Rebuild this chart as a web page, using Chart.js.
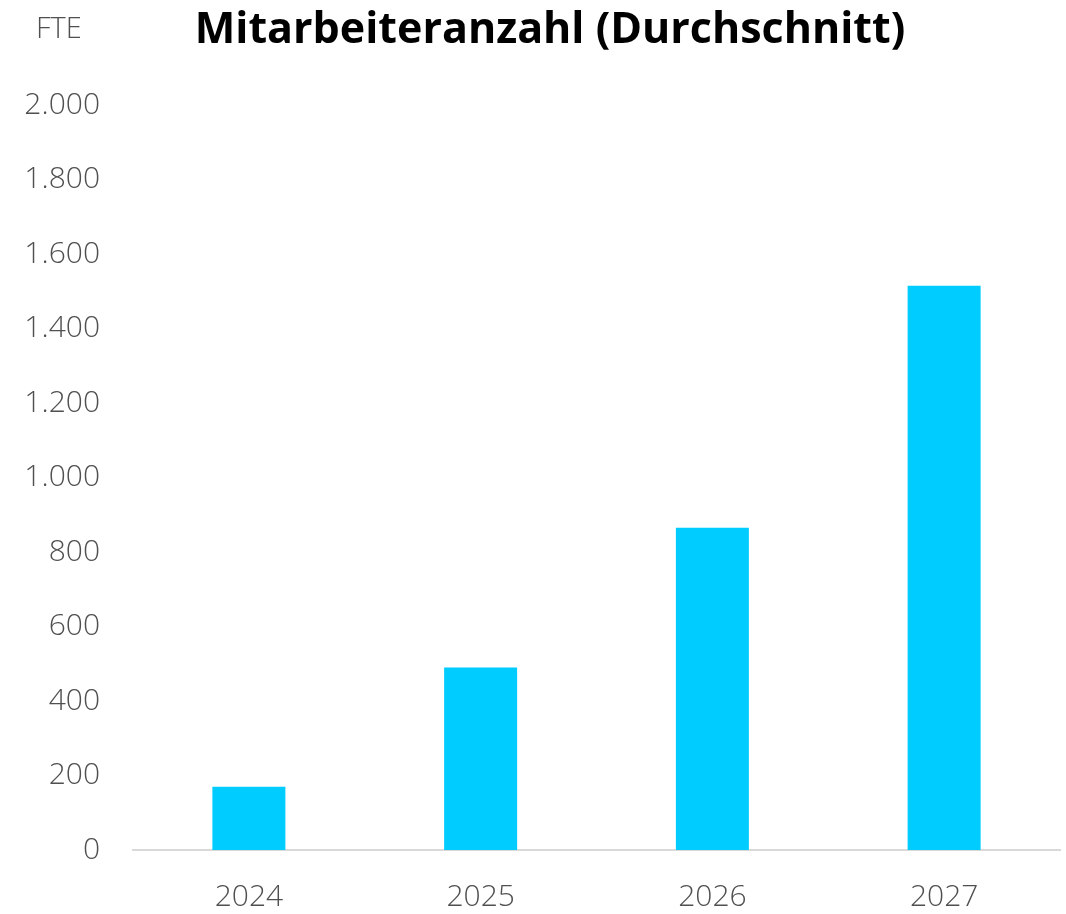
<!DOCTYPE html>
<html>
<head>
<meta charset="utf-8">
<script src="https://cdn.jsdelivr.net/npm/chart.js@4/dist/chart.umd.min.js"></script>
<style>
  html, body { margin: 0; padding: 0; background: #fff; }
  #wrap { width: 1066px; height: 914px; }
</style>
</head>
<body>
<div id="wrap"><canvas id="fteChart" width="1066" height="914"></canvas></div>
<script>
var years = ["2024", "2025", "2026", "2027"];
var fteAvg = [170, 490, 865, 1515];
var yTicks = [0, 200, 400, 600, 800, 1000, 1200, 1400, 1600, 1800, 2000];
var chartTitle = "Mitarbeiteranzahl (Durchschnitt)";
var unitText = "FTE";

var fontName = "'Open Sans', 'Noto Sans', sans-serif";
var gray = "#505050";

function fmt(v) {
  // German thousands separator
  return String(v).replace(/\B(?=(\d{3})+(?!\d))/g, ".");
}

// title and "FTE" unit label, drawn at the top (title sits a bit right of centre)
var headerText = {
  id: "headerText",
  afterDraw: function(chart) {
    var ctx = chart.ctx;
    ctx.save();
    ctx.textBaseline = "middle";
    ctx.font = "300 29px " + fontName;
    ctx.fillStyle = gray;
    ctx.textAlign = "left";
    ctx.fillText(unitText, 36, 30);
    ctx.font = "bold 43px " + fontName;
    ctx.fillStyle = "#000";
    ctx.textAlign = "center";
    ctx.fillText(chartTitle, 550, 31);
    ctx.restore();
  }
};

var ctx = document.getElementById("fteChart");
var myChart = new Chart(ctx, {
  type: "bar",
  data: {
    labels: years,
    datasets: [{
      label: unitText,
      data: fteAvg,
      backgroundColor: "#00CCFF",
      borderWidth: 0,
      barPercentage: 0.315,
      categoryPercentage: 1.0
    }]
  },
  options: {
    responsive: false,
    animation: false,
    layout: { padding: { left: 0, right: 6, top: 105, bottom: 0 } },
    plugins: {
      legend: { display: false },
      tooltip: { enabled: false },
      title: { display: false }
    },
    scales: {
      x: {
        afterFit: function(axis) { axis.height = 64; },
        grid: { display: false, drawTicks: false },
        border: { display: true, color: "#d9d9d9", width: 2 },
        ticks: {
          color: gray,
          padding: 29,
          maxRotation: 0,
          font: { family: fontName, size: 30, weight: 300 }
        }
      },
      y: {
        min: 0,
        max: 2000,
        afterBuildTicks: function(axis) {
          axis.ticks = yTicks.map(function(v) { return { value: v }; });
        },
        afterFit: function(axis) { axis.width = 133; },
        grid: { display: false, drawTicks: false },
        border: { display: false },
        ticks: {
          color: gray,
          padding: 33,
          font: { family: fontName, size: 30, weight: 300 },
          callback: function(v) { return fmt(v); }
        }
      }
    }
  },
  plugins: [headerText]
});
</script>
</body>
</html>
